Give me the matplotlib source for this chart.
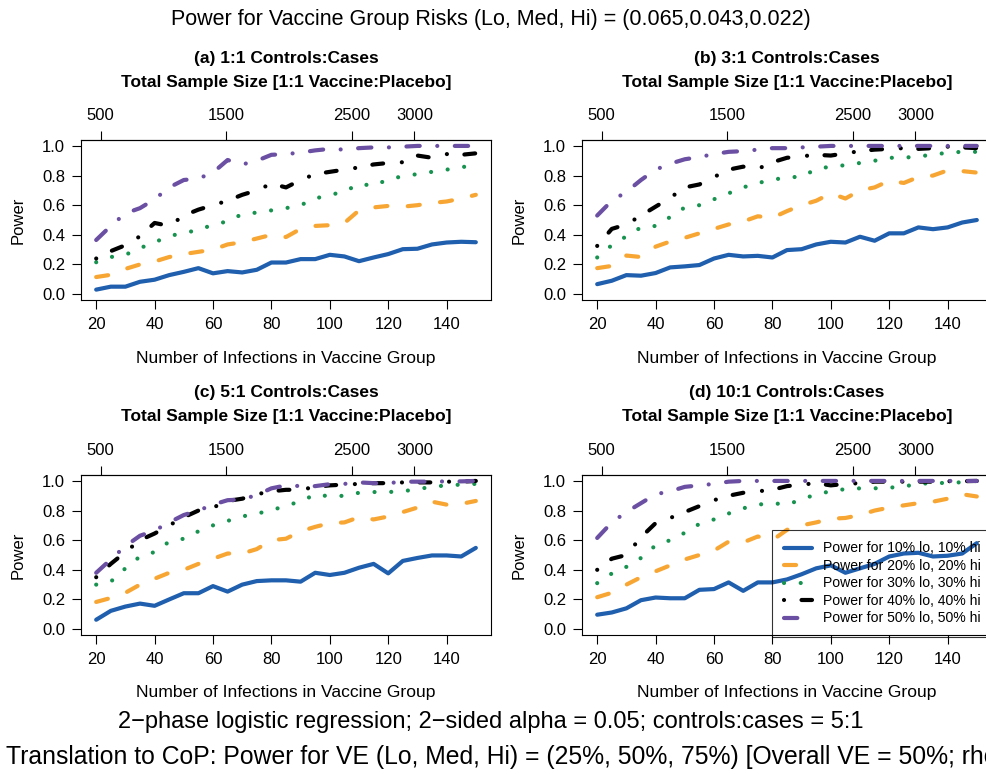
import matplotlib
matplotlib.use('Agg')
import matplotlib.pyplot as plt

plt.rcParams['font.family'] = ['Liberation Sans', 'DejaVu Sans']

# number of infections in the vaccine group (x axis)
x_inf = [20, 25, 30, 35, 40, 45, 50, 55, 60, 65, 70, 75, 80, 85,
         90, 95, 100, 105, 110, 115, 120, 125, 130, 135, 140, 145, 150]
x_ticks = [20, 40, 60, 80, 100, 120, 140]
y_ticks = [0.0, 0.2, 0.4, 0.6, 0.8, 1.0]
n_ticks = [500, 1500, 2500, 3000]   # total sample size (top axis)
med_risk = 0.043

labels = ["Power for 10% lo, 10% hi", "Power for 20% lo, 20% hi",
          "Power for 30% lo, 30% hi", "Power for 40% lo, 40% hi",
          "Power for 50% lo, 50% hi"]
titles = ["(a) 1:1 Controls:Cases", "(b) 3:1 Controls:Cases",
          "(c) 5:1 Controls:Cases", "(d) 10:1 Controls:Cases"]

# (a) 1:1
a10 = [0.03, 0.05, 0.05, 0.083, 0.097, 0.128, 0.15, 0.175, 0.14, 0.155, 0.146, 0.164, 0.213, 0.213,
       0.236, 0.236, 0.265, 0.254, 0.222, 0.247, 0.27, 0.303, 0.306, 0.335, 0.348, 0.353, 0.35]
a20 = [0.115, 0.13, 0.17, 0.2, 0.22, 0.25, 0.27, 0.285, 0.3, 0.335, 0.35, 0.375, 0.4, 0.385,
       0.44, 0.46, 0.465, 0.48, 0.565, 0.585, 0.595, 0.59, 0.6, 0.615, 0.625, 0.645, 0.67]
a30 = [0.215, 0.25, 0.265, 0.31, 0.35, 0.39, 0.415, 0.43, 0.47, 0.49, 0.54, 0.55, 0.565, 0.58,
       0.6, 0.645, 0.67, 0.69, 0.745, 0.73, 0.775, 0.795, 0.81, 0.825, 0.84, 0.855, 0.875]
a40 = [0.24, 0.29, 0.33, 0.39, 0.48, 0.46, 0.53, 0.57, 0.6, 0.63, 0.67, 0.7, 0.745, 0.72,
       0.77, 0.81, 0.825, 0.84, 0.855, 0.875, 0.885, 0.89, 0.935, 0.92, 0.945, 0.94, 0.95]
a50 = [0.365, 0.46, 0.545, 0.58, 0.64, 0.72, 0.77, 0.78, 0.82, 0.905, 0.875, 0.9, 0.94, 0.945,
       0.955, 0.97, 0.98, 0.975, 0.985, 0.99, 0.99, 0.995, 1.0, 1.0, 1.0, 1.0, 1.0]

# (b) 3:1
b10 = [0.067, 0.09, 0.128, 0.124, 0.142, 0.18, 0.187, 0.196, 0.24, 0.265, 0.254, 0.258, 0.247, 0.297,
       0.303, 0.335, 0.353, 0.348, 0.387, 0.36, 0.41, 0.41, 0.45, 0.438, 0.45, 0.483, 0.5]
b20 = [0.175, 0.19, 0.26, 0.25, 0.32, 0.355, 0.38, 0.41, 0.44, 0.47, 0.49, 0.525, 0.515, 0.56,
       0.6, 0.63, 0.68, 0.645, 0.7, 0.72, 0.765, 0.75, 0.79, 0.8, 0.835, 0.83, 0.82]
b30 = [0.247, 0.33, 0.39, 0.45, 0.46, 0.52, 0.585, 0.6, 0.64, 0.68, 0.72, 0.75, 0.77, 0.79,
       0.79, 0.845, 0.86, 0.87, 0.885, 0.9, 0.92, 0.92, 0.93, 0.94, 0.955, 0.96, 0.96]
b40 = [0.325, 0.44, 0.47, 0.53, 0.59, 0.65, 0.72, 0.74, 0.79, 0.84, 0.86, 0.845, 0.89, 0.92,
       0.93, 0.94, 0.935, 0.95, 0.965, 0.975, 0.98, 0.985, 0.98, 0.985, 0.995, 0.99, 0.985]
b50 = [0.53, 0.63, 0.69, 0.77, 0.84, 0.88, 0.91, 0.925, 0.945, 0.96, 0.965, 0.975, 0.985, 0.985,
       0.99, 0.995, 1.0, 1.0, 1.0, 1.0, 1.0, 1.0, 1.0, 1.0, 1.0, 1.0, 1.0]

# (c) 5:1
c10 = [0.063, 0.123, 0.152, 0.172, 0.157, 0.2, 0.242, 0.242, 0.29, 0.253, 0.3, 0.324, 0.329, 0.329,
       0.32, 0.38, 0.365, 0.38, 0.414, 0.44, 0.376, 0.46, 0.48, 0.497, 0.497, 0.49, 0.548]
c20 = [0.183, 0.21, 0.245, 0.3, 0.34, 0.38, 0.4, 0.44, 0.475, 0.51, 0.51, 0.54, 0.6, 0.61,
       0.66, 0.69, 0.715, 0.72, 0.755, 0.74, 0.76, 0.79, 0.82, 0.86, 0.84, 0.845, 0.865]
c30 = [0.3, 0.32, 0.41, 0.49, 0.52, 0.59, 0.61, 0.66, 0.7, 0.73, 0.76, 0.78, 0.8, 0.835,
       0.86, 0.91, 0.895, 0.9, 0.92, 0.925, 0.925, 0.93, 0.945, 0.96, 0.97, 0.975, 0.98]
c40 = [0.35, 0.44, 0.52, 0.6, 0.645, 0.7, 0.755, 0.8, 0.82, 0.865, 0.88, 0.91, 0.93, 0.94,
       0.94, 0.96, 0.97, 0.975, 0.98, 0.985, 0.985, 0.99, 0.99, 0.99, 0.995, 0.995, 1.0]
c50 = [0.38, 0.47, 0.56, 0.63, 0.665, 0.72, 0.77, 0.8, 0.84, 0.87, 0.875, 0.905, 0.95, 0.97,
       0.965, 0.965, 0.978, 0.98, 0.99, 0.985, 0.985, 0.995, 0.995, 0.995, 0.997, 0.997, 1.0]

# (d) 10:1
d10 = [0.097, 0.112, 0.14, 0.195, 0.213, 0.208, 0.208, 0.265, 0.27, 0.315, 0.258, 0.315, 0.315, 0.335,
       0.37, 0.41, 0.43, 0.38, 0.41, 0.44, 0.49, 0.51, 0.515, 0.49, 0.495, 0.51, 0.58]
d20 = [0.215, 0.245, 0.3, 0.35, 0.39, 0.43, 0.47, 0.5, 0.53, 0.59, 0.585, 0.625, 0.6, 0.67,
       0.7, 0.72, 0.745, 0.75, 0.77, 0.8, 0.82, 0.835, 0.85, 0.86, 0.88, 0.91, 0.895]
d30 = [0.31, 0.375, 0.42, 0.48, 0.565, 0.6, 0.65, 0.71, 0.74, 0.78, 0.815, 0.84, 0.85, 0.84,
       0.875, 0.91, 0.93, 0.945, 0.95, 0.95, 0.955, 0.96, 0.985, 0.98, 0.99, 0.99, 1.0]
d40 = [0.4, 0.475, 0.5, 0.62, 0.715, 0.75, 0.79, 0.83, 0.87, 0.9, 0.92, 0.93, 0.94, 0.965,
       0.975, 0.985, 0.97, 0.98, 0.985, 0.995, 0.995, 0.995, 0.995, 0.995, 0.998, 0.998, 1.0]
d50 = [0.615, 0.72, 0.79, 0.85, 0.91, 0.93, 0.96, 0.97, 0.98, 0.995, 1.0, 1.0, 1.0, 1.0,
       1.0, 1.0, 1.0, 1.0, 1.0, 1.0, 1.0, 1.0, 1.0, 1.0, 1.0, 1.0, 1.0]

colors = ['#1f5fae', '#f8a633', '#17924f', '#000000', '#6b4fa2']
styles = ['-', (0, (2.9, 4.9)), (0, (0.01, 4.0)),
          (0, (0.01, 4.2, 2.6, 4.5)), (0, (3.2, 4.2, 0.01, 4.2))]

W, H = 986, 774
fig = plt.figure(figsize=(W / 100, H / 100), dpi=100)

# panel boxes in pixels: left, top (right panels run past the image edge like the original)
boxes = [(81, 140), (582, 140), (81, 475), (582, 475)]
pw, ph = 410, 160
panels = [[a10, a20, a30, a40, a50], [b10, b20, b30, b40, b50],
          [c10, c20, c30, c40, c50], [d10, d20, d30, d40, d50]]

for k, ((lx, ty), series) in enumerate(zip(boxes, panels)):
    ax = fig.add_axes([lx / W, 1 - (ty + ph) / H, pw / W, ph / H])
    for y, col, ls, lab in zip(series, colors, styles, labels):
        ax.plot(x_inf, y, color=col, lw=3, linestyle=ls, label=lab,
                dash_capstyle='round', solid_capstyle='round')
    ax.set_xlim(14.8, 155.2)
    ax.set_ylim(-0.04, 1.04)
    ax.set_xticks(x_ticks)
    ax.set_yticks(y_ticks)
    ax.yaxis.set_major_formatter('{x:.1f}')
    ax.tick_params(axis='x', direction='out', length=6.5, width=0.8, labelsize=12, pad=6)
    ax.tick_params(axis='y', direction='out', length=6.5, width=0.8, labelsize=12, pad=5)
    for sp in ax.spines.values():
        sp.set_linewidth(0.8)

    sec = ax.secondary_xaxis('top', functions=(lambda v: v / med_risk, lambda n: n * med_risk))
    sec.set_xticks(n_ticks)
    sec.tick_params(direction='out', length=6.5, width=0.8, labelsize=12, pad=6)
    sec.spines['top'].set_linewidth(0.8)

    ax.text(0.5, 1 + 82 / ph, titles[k], transform=ax.transAxes, ha='center', va='center',
            fontsize=12.5, fontweight='bold')
    ax.text(0.5, 1 + 58 / ph, 'Total Sample Size [1:1 Vaccine:Placebo]', transform=ax.transAxes,
            ha='center', va='center', fontsize=12.5, fontweight='bold')
    ax.text(0.5, -58 / ph, 'Number of Infections in Vaccine Group', transform=ax.transAxes,
            ha='center', va='center', fontsize=12.6)
    ax.text(-63 / pw, 0.5, 'Power', transform=ax.transAxes, ha='center', va='center',
            rotation=90, fontsize=12)

    if k == 3:
        leg = ax.legend(loc='lower left', bbox_to_anchor=((772 - lx) / pw, -0.015),
                        bbox_transform=ax.transAxes, borderaxespad=0, fancybox=False,
                        edgecolor='black', facecolor='none', framealpha=None,
                        fontsize=10.1, handlelength=2.0, handletextpad=0.8,
                        borderpad=0.85, labelspacing=0.25)
        leg.get_frame().set_linewidth(0.8)

fig.text(491 / W, 1 - 20 / H, 'Power for Vaccine Group Risks (Lo, Med, Hi) = (0.065,0.043,0.022)',
         ha='center', va='center', fontsize=15.5)
fig.text(491 / W, 1 - 722 / H, '2\u2212phase logistic regression; 2\u2212sided alpha = 0.05; controls:cases = 5:1',
         ha='center', va='center', fontsize=17)
fig.text(6 / W, 1 - 757 / H,
         'Translation to CoP: Power for VE (Lo, Med, Hi) = (25%, 50%, 75%) [Overall VE = 50%; rho = 1]',
         ha='left', va='center', fontsize=17.8)

fig.savefig('out.png', dpi=100)
